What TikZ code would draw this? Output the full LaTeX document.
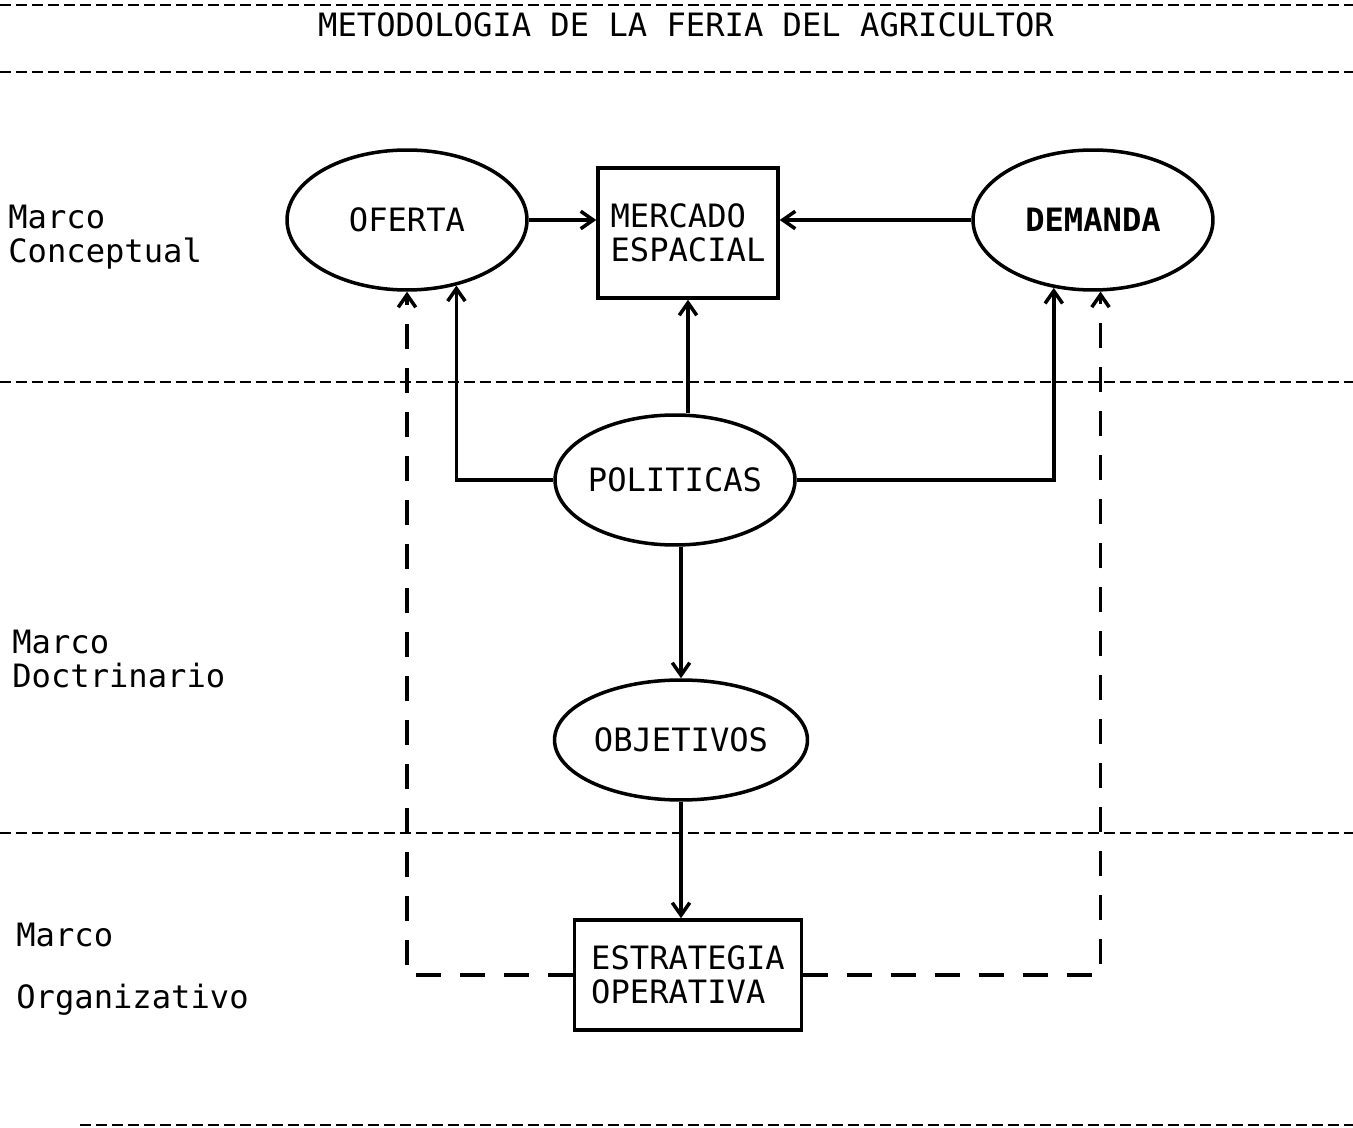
\documentclass[tikz,border=0pt]{standalone}
\usepackage{fontspec}
\setmonofont{DejaVu Sans Mono}
\usetikzlibrary{shapes.geometric,arrows.meta}
\tikzset{
  texto/.style={font=\ttfamily\fontsize{18.3}{19.5}\selectfont},
  rotulo/.style={texto,anchor=west,align=left,inner sep=0pt},
  elip/.style={draw,ellipse,line width=2pt,inner xsep=-3pt,texto},
  caja/.style={draw,rectangle,line width=2pt,texto,align=left},
  flecha/.style={line width=2pt,-{Straight Barb[length=2.5mm,width=3.5mm]}},
  guion/.style={flecha,dash pattern=on 0.5cm off 0.38cm},
  raya/.style={line width=1.2pt,dash pattern=on 0.22cm off 0.1cm}
}

\begin{document}
\begin{tikzpicture}[x=0.02cm,y=-0.02cm]
  \useasboundingbox (0,0) rectangle (1353,1128);

  \foreach \yy in {5,72,382,833} {
    \draw[raya] (0,\yy) -- (1353,\yy);
  }
  \draw[raya] (80,1125) -- (1353,1125);

  \node[texto] (titulo) at (686,25) {METODOLOGIA DE LA FERIA DEL AGRICULTOR};

  \node[rotulo] (mconc) at (8,237) {Marco\\Conceptual};
  \node[rotulo] (mdoct) at (12,659) {Marco\\Doctrinario};
  \node[rotulo] (morg1) at (16,935) {Marco};
  \node[rotulo] (morg2) at (16,1000) {Organizativo};

  \node[elip,minimum width=4.8cm,minimum height=2.8cm] (ofe) at (407,220) {OFERTA};
  \node[caja,minimum width=3.6cm,minimum height=2.6cm] (merc) at (688,233) {MERCADO\\ESPACIAL};
  \node[elip,minimum width=4.8cm,minimum height=2.8cm,font=\ttfamily\bfseries\fontsize{18.3}{19.5}\selectfont] (dem) at (1093,220) {DEMANDA};
  \node[elip,minimum width=4.8cm,minimum height=2.6cm] (pol) at (675,480) {POLITICAS};
  \node[elip,minimum width=5.06cm,minimum height=2.4cm] (obj) at (681,740) {OBJETIVOS};
  \node[caja,minimum width=4.54cm,minimum height=2.2cm] (estr) at (688,975) {ESTRATEGIA\\OPERATIVA};

  \draw[flecha] (ofe.east) -- (ofe.east -| merc.west);
  \draw[flecha] (dem.west) -- (dem.west -| merc.east);
  \draw[flecha] (pol.north -| merc.south) -- (merc.south);
  \draw[flecha] (pol.west) -| (ofe.-53);
  \draw[flecha] (pol.east) -| (dem.-120);
  \draw[flecha] (pol.south -| obj.north) -- (obj.north);
  \draw[flecha] (obj.south) -- (obj.south |- estr.north);

  \draw[guion] (estr.west) -| (ofe.south);
  \draw[guion] (estr.east) -| (dem.-84);
\end{tikzpicture}
\end{document}
